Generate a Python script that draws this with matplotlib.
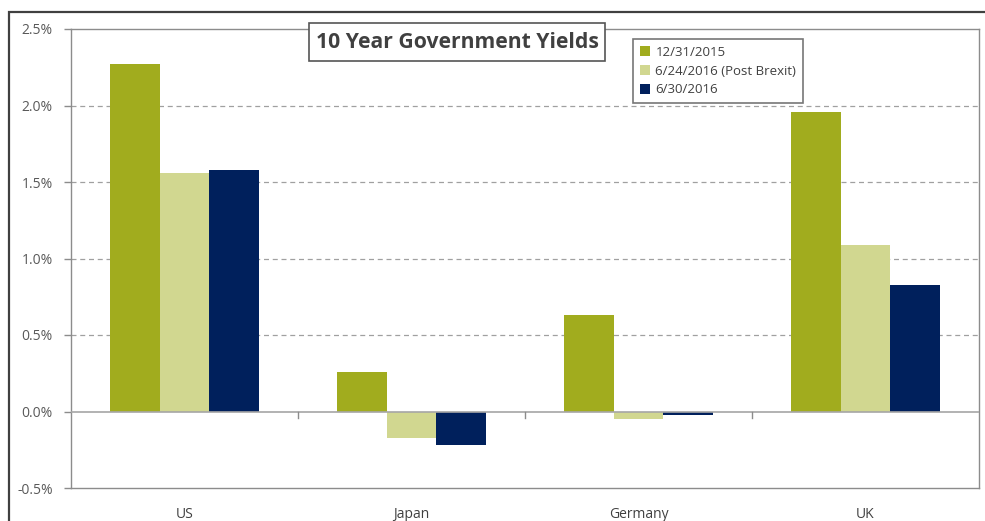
import matplotlib
matplotlib.use("Agg")
import matplotlib.pyplot as plt
import numpy as np
from matplotlib.patches import Rectangle
from matplotlib.ticker import FuncFormatter

categories = ["US", "Japan", "Germany", "UK"]
series_names = ["12/31/2015", "6/24/2016 (Post Brexit)", "6/30/2016"]
y_dec2015 = [2.27, 0.26, 0.63, 1.96]
y_jun24 = [1.56, -0.17, -0.05, 1.09]
y_jun30 = [1.58, -0.22, -0.02, 0.83]
colors = ["#A1AC1E", "#D1D790", "#00205C"]
yticks = [-0.5, 0.0, 0.5, 1.0, 1.5, 2.0, 2.5]

plt.rcParams['font.family'] = ['Open Sans', 'DejaVu Sans']

W, H = 985, 521
fig = plt.figure(figsize=(W/100, H/100), dpi=100)
fig.patches.append(Rectangle((9/W, -0.1), 1.0, 1 - 12/H + 0.1, transform=fig.transFigure,
                             fill=False, edgecolor="#404040", linewidth=1.6, zorder=0))

ax = fig.add_axes([71/W, 1 - 488/H, 908/W, (488 - 29)/H])
x = np.arange(len(categories))
bw = 0.22
for i, (vals, name) in enumerate(zip([y_dec2015, y_jun24, y_jun30], series_names)):
    ax.bar(x + (i - 1) * bw, vals, width=bw, color=colors[i], label=name, zorder=3)

ax.set_xlim(-0.5, len(categories) - 0.5)
ax.set_ylim(-0.5, 2.5)
ax.set_yticks(yticks)
ax.yaxis.set_major_formatter(FuncFormatter(lambda v, p: f"{v:.1f}%"))
for t in [0.5, 1.0, 1.5, 2.0]:
    ax.axhline(t, color="#A0A0A0", linestyle=(0, (4, 3)), linewidth=0.9, zorder=1)
ax.axhline(0, color="#A6A6A6", linewidth=1.2, zorder=4)
for b in [0.5, 1.5, 2.5]:
    ax.plot([b, b], [0, -0.04], color="#8C8C8C", linewidth=1.0, zorder=4, clip_on=False)

ax.set_xticks(x)
ax.set_xticklabels(categories)
ax.tick_params(axis="x", length=0, pad=14, labelsize=10, labelcolor="#404040")
ax.tick_params(axis="y", length=5, width=1, color="#8C8C8C", labelsize=10, labelcolor="#595959", pad=8)
for s in ax.spines.values():
    s.set_color("#8C8C8C")
    s.set_linewidth(1.0)

# title box
fig.patches.append(Rectangle((309/W, 1 - 61/H), (605 - 309)/W, (61 - 23)/H, transform=fig.transFigure,
                             facecolor="white", edgecolor="#555555", linewidth=1.2, zorder=5))
fig.text(457/W, 1 - 42/H, "10 Year Government Yields", ha="center", va="center",
         fontsize=15.2, fontweight="bold", color="#404040", zorder=6)

leg = ax.legend(loc="upper left", bbox_to_anchor=((633 - 71)/908, 1 - (39 - 29)/459), frameon=True,
                fancybox=False, fontsize=9.5, handlelength=0.8, handleheight=0.8, handletextpad=0.4,
                borderpad=0.5, labelspacing=0.45, borderaxespad=0)
leg.get_frame().set_edgecolor("#555555")
leg.get_frame().set_linewidth(1.2)
for t in leg.get_texts():
    t.set_color("#404040")
leg.set_zorder(6)

fig.savefig("out.png", dpi=100)
